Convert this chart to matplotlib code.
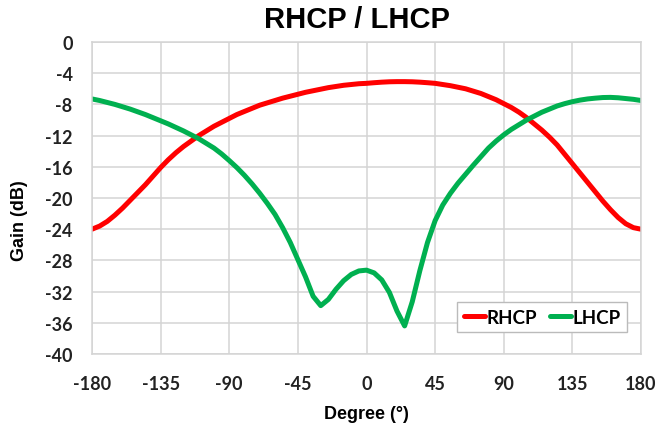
"""
RHCP / LHCP gain pattern
"""

import numpy as np
import matplotlib
matplotlib.use("Agg")
import matplotlib.pyplot as plt

plt.rcParams["axes.unicode_minus"] = False

# angle in degrees, 5 deg steps
degree = list(range(-180, 181, 5))

# values (dB)
rhcp = [
    -24.0, -23.6, -23.0, -22.2, -21.3, -20.3, -19.3, -18.3, -17.2, -16.1,
    -15.1, -14.2, -13.4, -12.7, -12.0, -11.4, -10.8, -10.3, -9.8, -9.3,
    -8.9, -8.5, -8.1, -7.8, -7.5, -7.2, -6.95, -6.7, -6.45, -6.25,
    -6.05, -5.85, -5.7, -5.55, -5.45, -5.35, -5.3, -5.22, -5.15, -5.1,
    -5.08, -5.08, -5.1, -5.15, -5.22, -5.3, -5.45, -5.6, -5.8, -6.0,
    -6.3, -6.6, -7.0, -7.4, -7.9, -8.4, -9.0, -9.7, -10.5, -11.3,
    -12.2, -13.2, -14.4, -15.6, -16.8, -18.0, -19.2, -20.4, -21.5, -22.5,
    -23.3, -23.8, -24.0,
]
lhcp = [
    -7.3, -7.5, -7.75, -8.0, -8.3, -8.6, -8.95, -9.3, -9.7, -10.1,
    -10.5, -10.95, -11.4, -11.9, -12.4, -13.0, -13.6, -14.35, -15.2, -16.1,
    -17.1, -18.2, -19.4, -20.7, -22.1, -23.8, -25.7, -27.9, -30.1, -32.6,
    -33.8, -33.0, -31.7, -30.6, -29.8, -29.35, -29.25, -29.6, -30.5, -32.1,
    -34.5, -36.4, -33.3, -29.3, -25.7, -22.9, -20.9, -19.4, -18.1, -16.95,
    -15.8, -14.7, -13.6, -12.7, -11.9, -11.2, -10.6, -10.0, -9.5, -9.0,
    -8.6, -8.2, -7.9, -7.65, -7.45, -7.3, -7.2, -7.12, -7.1, -7.15,
    -7.25, -7.35, -7.5,
]

x_ticks = [-180, -135, -90, -45, 0, 45, 90, 135, 180]
y_ticks = list(range(-40, 1, 4))

fig = plt.figure(figsize=(6.59, 4.27), dpi=100)
ax = fig.add_axes([0.1396, 0.1686, 0.8331, 0.7307])

ax.plot(degree, rhcp, color="#ff0000", lw=3.6, label="RHCP",
        solid_capstyle="round", solid_joinstyle="round")
ax.plot(degree, lhcp, color="#00b050", lw=3.6, label="LHCP",
        solid_capstyle="round", solid_joinstyle="round")

ax.set_xlim(-180, 180)
ax.set_ylim(-40, 0)
ax.set_xticks(x_ticks)
ax.set_yticks(y_ticks)
ax.grid(True, color="#d4d4d4", lw=1.1)
ax.set_axisbelow(True)
for s in ax.spines.values():
    s.set_color("#d4d4d4")
    s.set_linewidth(1.1)

ax.tick_params(length=0, colors="#222222")
ax.tick_params(axis="y", pad=14)
ax.tick_params(axis="x", pad=15)
for lab in ax.get_xticklabels() + ax.get_yticklabels():
    lab.set_fontfamily("Lato")
    lab.set_fontweight("bold")
    lab.set_fontsize(13)

ax.set_xlabel("Degree (°)", family="Liberation Sans", weight="bold", fontsize=13)
ax.set_ylabel("Gain (dB)", family="Liberation Sans", weight="bold", fontsize=13)
ax.xaxis.set_label_coords(0.5, -0.165)
ax.yaxis.set_label_coords(-0.117, 0.43)

fig.text(0.541, 0.953, "RHCP / LHCP", family="Liberation Sans", weight="bold",
         fontsize=21, ha="center", va="center")

leg = ax.legend(loc="lower right", bbox_to_anchor=(0.975, 0.07), borderaxespad=0,
                ncol=2, fancybox=False, framealpha=1, edgecolor="#bbbbbb",
                handlelength=1.1, handletextpad=0.1, columnspacing=0.7,
                borderpad=0.35, prop=dict(family="Lato", weight="bold", size=13.5))
leg.get_frame().set_linewidth(1.0)

fig.savefig("out.png", dpi=100)
